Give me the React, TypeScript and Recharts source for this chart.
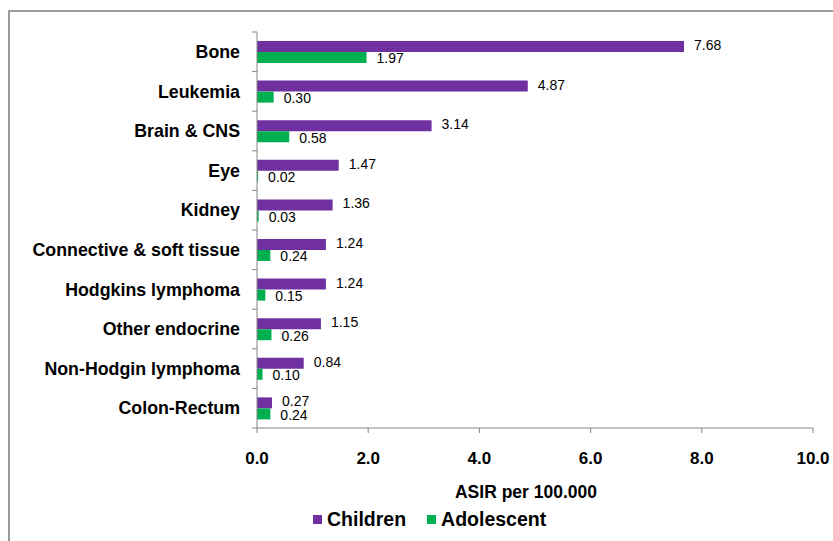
import React from 'react';
import { BarChart, Bar, XAxis, YAxis, Legend, LabelList } from 'recharts';

const categories = [
  'Bone',
  'Leukemia',
  'Brain & CNS',
  'Eye',
  'Kidney',
  'Connective & soft tissue',
  'Hodgkins lymphoma',
  'Other endocrine',
  'Non-Hodgin lymphoma',
  'Colon-Rectum',
];
const children = [7.68, 4.87, 3.14, 1.47, 1.36, 1.24, 1.24, 1.15, 0.84, 0.27];
const adolescent = [1.97, 0.3, 0.58, 0.02, 0.03, 0.24, 0.15, 0.26, 0.1, 0.24];
const xTicks = [0, 2, 4, 6, 8, 10];
const seriesOrder = ['Children', 'Adolescent'];

const data = categories.map((name, i) => ({
  name,
  children: children[i],
  adolescent: adolescent[i],
}));

const W = 833;
const H = 541;
const MARGIN = { top: 32, right: 20, bottom: 38, left: 0 };
const X_AXIS_H = 75;
const PLOT_H = H - MARGIN.top - MARGIN.bottom - X_AXIS_H;
const BAND = PLOT_H / categories.length;
const FONT = '"Liberation Sans", Arial, sans-serif';
const AXIS_COLOR = '#868686';

const CategoryTick = (props: any) => {
  const { x, y, payload, index } = props;
  const ax = x + 2;
  return (
    <g>
      <line x1={ax - 5} x2={ax} y1={y - BAND / 2} y2={y - BAND / 2} stroke={AXIS_COLOR} />
      {index === categories.length - 1 && (
        <line x1={ax - 5} x2={ax} y1={y + BAND / 2} y2={y + BAND / 2} stroke={AXIS_COLOR} />
      )}
      <text
        x={ax - 17}
        y={y}
        dy="0.35em"
        textAnchor="end"
        fontFamily={FONT}
        fontSize={17.8}
        fontWeight="bold"
        fill="#000"
      >
        {payload.value}
      </text>
    </g>
  );
};

const LegendContent = (props: any) => {
  const items = [...(props.payload || [])].sort(
    (a: any, b: any) => seriesOrder.indexOf(a.value) - seriesOrder.indexOf(b.value)
  );
  return (
    <div style={{ display: 'flex', gap: 21, fontFamily: FONT, fontSize: 19.5, fontWeight: 'bold', color: '#000' }}>
      {items.map((p: any) => (
        <span key={p.value} style={{ display: 'flex', alignItems: 'center', gap: 5 }}>
          <span style={{ width: 9, height: 9, background: p.color, display: 'inline-block' }} />
          {p.value}
        </span>
      ))}
    </div>
  );
};

export default function App() {
  return (
    <div
      style={{
        position: 'fixed',
        left: 0,
        top: 0,
        width: W,
        height: H,
        overflow: 'hidden',
        background: '#fff',
      }}
    >
      <div
        style={{
          position: 'absolute',
          left: 8,
          top: 10,
          width: 900,
          height: 600,
          border: '2px solid #9a9a9a',
        }}
      />
      <div style={{ position: 'absolute', left: 0, top: 0 }}>
        <BarChart
          width={W}
          height={H}
          data={data}
          layout="vertical"
          margin={MARGIN}
          barSize={11}
          barGap={0}
        >
          <XAxis
            type="number"
            domain={[0, 10]}
            ticks={xTicks}
            tickFormatter={(v: number) => v.toFixed(1)}
            stroke={AXIS_COLOR}
            tickSize={5}
            tickMargin={19}
            height={X_AXIS_H}
            tick={{ fill: '#000', fontSize: 17, fontWeight: 'bold', fontFamily: FONT }}
            label={{
              value: 'ASIR per 100.000',
              position: 'insideBottom',
              offset: 5,
              dx: -9,
              fill: '#000',
              fontSize: 17.5,
              fontWeight: 'bold',
              fontFamily: FONT,
            }}
          />
          <YAxis
            type="category"
            dataKey="name"
            width={257}
            stroke={AXIS_COLOR}
            tickLine={false}
            tickSize={0}
            tickMargin={2}
            interval={0}
            tick={<CategoryTick />}
          />
          <Legend
            layout="horizontal"
            verticalAlign="middle"
            align="center"
            content={<LegendContent />}
            wrapperStyle={{ left: 313, top: 508, width: 'auto' }}
          />
          <Bar dataKey="children" name="Children" fill="#7030A0" isAnimationActive={false}>
            <LabelList
              dataKey="children"
              position="right"
              offset={10}
              dy={-1.5}
              formatter={(v: number) => v.toFixed(2)}
              style={{ fill: '#000', fontSize: 14, fontFamily: FONT }}
            />
          </Bar>
          <Bar dataKey="adolescent" name="Adolescent" fill="#00B050" isAnimationActive={false}>
            <LabelList
              dataKey="adolescent"
              position="right"
              offset={10}
              dy={1}
              formatter={(v: number) => v.toFixed(2)}
              style={{ fill: '#000', fontSize: 14, fontFamily: FONT }}
            />
          </Bar>
        </BarChart>
      </div>
    </div>
  );
}
